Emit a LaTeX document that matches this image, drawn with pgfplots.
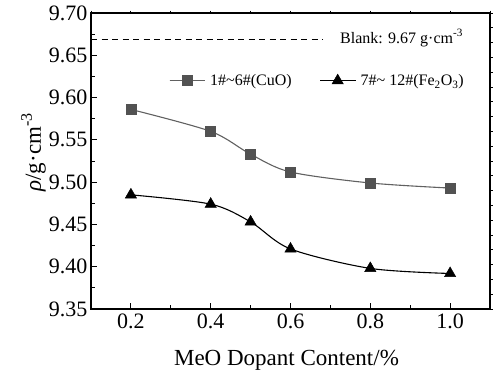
\documentclass[border=0pt]{standalone}
\usepackage{fontspec}
\setmainfont{Liberation Serif}
\usepackage{pgfplots}
\pgfplotsset{compat=1.18}
\begin{document}
\begin{tikzpicture}
\begin{axis}[
  name=ax,
  scale only axis,
  width=399pt, height=296pt,
  xmin=0.1, xmax=1.1,
  ymin=9.35, ymax=9.70,
  /pgf/number format/assume math mode=true,
  xtick={0.2,0.4,0.6,0.8,1.0},
  xticklabels={0.2,0.4,0.6,0.8,1.0},
  ytick={9.35,9.40,9.45,9.50,9.55,9.60,9.65,9.70},
  yticklabels={9.35,9.40,9.45,9.50,9.55,9.60,9.65,9.70},
  minor x tick num=1,
  minor y tick num=1,
  tick pos=left,
  tick align=inside,
  major tick length=6pt,
  minor tick length=4pt,
  every tick/.style={black, line width=1pt},
  axis line style={line width=1.4pt},
  tick label style={font=\fontsize{22}{24}\selectfont},
  xticklabel style={yshift=-1pt},
  yticklabel style={xshift=0pt},
  xlabel={MeO Dopant Content/\%},
  every axis x label/.style={at={(axis description cs:0.49,0)}, anchor=base, yshift=-56pt, font=\fontsize{23}{25}\selectfont},
  ylabel={\textit{ρ}/g·cm\textsuperscript{-3}},
  every axis y label/.style={at={(axis description cs:0,0.385)}, xshift=-50pt, rotate=90, anchor=base west, font=\fontsize{23}{25}\selectfont},
  legend style={draw=none, fill=none, at={(axis cs:0.295,9.62)}, anchor=west,
    font=\fontsize{16}{18}\selectfont, inner sep=0pt,
    nodes={inner sep=2pt},
    column sep=3pt,
    /tikz/every even column/.append style={column sep=26pt}},
  legend columns=2,
  legend cell align=left,
  legend image code/.code={
    \draw[#1] (0pt,0pt) -- (35pt,0pt);
    \draw[#1, mark repeat=2, mark phase=2] plot coordinates {(0pt,0pt) (17.5pt,0pt) (35pt,0pt)};
  },
]
\addplot[forget plot, black, line width=1pt, dash pattern=on 6pt off 4.5pt] coordinates {(0.1,9.669) (0.681,9.669)};
\node[anchor=base west, font=\fontsize{16}{18}\selectfont, inner sep=0pt] at (axis cs:0.724,9.6645) {Blank: 9.67 g·cm\textsuperscript{-3}};

\addplot[color=black!62, line width=1.1pt, smooth, tension=0.5, mark=square*, mark size=5pt, mark options={fill=black!68, draw=black!68, line width=0.5pt}]
  coordinates {(0.2,9.586) (0.4,9.560) (0.5,9.533) (0.6,9.512) (0.8,9.499) (1.0,9.493)};
\addlegendentry{1\#\textasciitilde 6\#(CuO)}
\addplot[color=black, line width=1.1pt, smooth, tension=0.5, mark=triangle*, mark size=6.5pt, mark options={fill=black, line width=0.5pt}]
  coordinates {(0.2,9.485) (0.4,9.474) (0.5,9.453) (0.6,9.421) (0.8,9.398) (1.0,9.392)};
\addlegendentry{7\#\textasciitilde\ 12\#(Fe\textsubscript{2}O\textsubscript{3})}
\end{axis}
\begin{axis}[
  scale only axis,
  width=399pt, height=296pt,
  at={(ax.south west)}, anchor=south west,
  xmin=0.1, xmax=1.1, ymin=0, ymax=20,
  xtick={0.1,0.2,0.3,0.4,0.5,0.6,0.7,0.8,0.9,1.0,1.1},
  ytick={0,1,...,20},
  xticklabels={}, yticklabels={},
  tick pos=right, tick align=outside,
  major tick length=2.5pt,
  every tick/.style={black, line width=1pt},
  axis line style={draw=none},
]
\end{axis}
\pgfresetboundingbox
\path[use as bounding box] (ax.south west) ++(-91pt,-67pt) rectangle ++(494pt,376pt);
\end{tikzpicture}
\end{document}
